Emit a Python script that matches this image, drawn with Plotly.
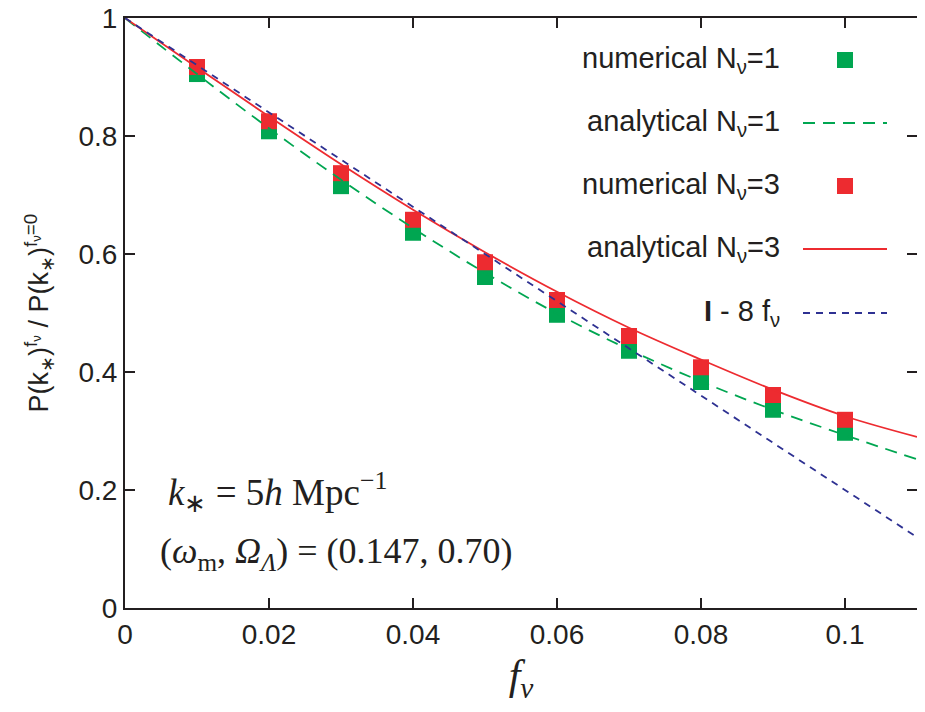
import plotly.graph_objects as go

# ---- data ----
f_nu = [0.01, 0.02, 0.03, 0.04, 0.05, 0.06, 0.07, 0.08, 0.09, 0.10]
num_N1 = [0.905, 0.808, 0.715, 0.636, 0.561, 0.497, 0.436, 0.383, 0.336, 0.297]
num_N3 = [0.917, 0.825, 0.737, 0.658, 0.586, 0.522, 0.461, 0.408, 0.361, 0.319]

f_curve = [0.0, 0.01, 0.02, 0.03, 0.04, 0.05, 0.06, 0.07, 0.08, 0.09, 0.10, 0.11]
ana_N1 = [1.0, 0.905, 0.813, 0.726, 0.644, 0.568, 0.499, 0.438, 0.384, 0.336, 0.293, 0.252]
ana_N3 = [1.0, 0.916, 0.833, 0.752, 0.675, 0.603, 0.536, 0.475, 0.421, 0.370, 0.325, 0.290]

f_lin = [0.0, 0.11]
lin_8f = [1.0, 0.12]

x_ticks = [0, 0.02, 0.04, 0.06, 0.08, 0.1]
x_labels = ["0", "0.02", "0.04", "0.06", "0.08", "0.1"]
y_ticks = [0, 0.2, 0.4, 0.6, 0.8, 1]
y_labels = ["0", "0.2", "0.4", "0.6", "0.8", "1"]

GREEN = "#00a651"
RED = "#ed2b30"
BLUE = "#2e3192"
TXT = "#231f20"
SANS = "Liberation Sans, Arial, Helvetica"
SERIF = "Liberation Serif, Times New Roman"

fig = go.Figure()
fig.add_trace(go.Scatter(x=f_nu, y=num_N1, mode="markers",
                         marker=dict(symbol="square", size=16, color=GREEN, line=dict(width=0)),
                         showlegend=False))
fig.add_trace(go.Scatter(x=f_nu, y=num_N3, mode="markers",
                         marker=dict(symbol="square", size=16, color=RED, line=dict(width=0)),
                         showlegend=False))
fig.add_trace(go.Scatter(x=f_curve, y=ana_N1, mode="lines",
                         line=dict(color=GREEN, width=1.8, dash="12px,8px", shape="spline"),
                         showlegend=False))
fig.add_trace(go.Scatter(x=f_curve, y=ana_N3, mode="lines",
                         line=dict(color=RED, width=1.8, shape="spline"),
                         showlegend=False))
fig.add_trace(go.Scatter(x=f_lin, y=lin_8f, mode="lines",
                         line=dict(color=BLUE, width=1.8, dash="7px,6px"),
                         showlegend=False))

# ---- page geometry (body has an 8px margin) ----
OFF = 8
W, H = 909, 696
L, R, T, B = 117, 0, 10, 96
pw, ph = W - L - R, H - T - B

def px(xpix):
    return (xpix - OFF - L) / pw

def py(ypix):
    return (OFF + H - B - ypix) / ph

# ---- custom legend (text right-aligned, sample to the right) ----
legend_items = [
    ("numerical N<sub>ν</sub>=1", "marker", GREEN, None),
    ("analytical N<sub>ν</sub>=1", "line", GREEN, "12px,8px"),
    ("numerical N<sub>ν</sub>=3", "marker", RED, None),
    ("analytical N<sub>ν</sub>=3", "line", RED, "solid"),
    ("<b>I</b> - 8 f<sub>ν</sub>", "line", BLUE, "7px,6px"),
]
legend_y = [60, 123, 186, 249, 313]
annotations = []
shapes = []
for (label, kind, col, dash), yp in zip(legend_items, legend_y):
    annotations.append(dict(xref="paper", yref="paper", x=px(782), y=py(yp), text=label,
                            showarrow=False, xanchor="right", yanchor="middle",
                            font=dict(family=SANS, size=29, color=TXT)))
    if kind == "marker":
        shapes.append(dict(type="rect", xref="paper", yref="paper",
                           x0=px(837), x1=px(853), y0=py(yp - 8), y1=py(yp + 8),
                           fillcolor=col, line=dict(width=0)))
    else:
        shapes.append(dict(type="line", xref="paper", yref="paper",
                           x0=px(803), x1=px(887), y0=py(yp), y1=py(yp),
                           line=dict(color=col, width=1.8, dash=dash)))

annotations.append(dict(xref="paper", yref="paper", x=px(166), y=py(492), showarrow=False,
                        xanchor="left", yanchor="middle",
                        text="<i>k</i><sub>∗</sub> = 5<i>h</i> Mpc<sup>−1</sup>",
                        font=dict(family=SERIF, size=37, color=TXT)))
annotations.append(dict(xref="paper", yref="paper", x=px(158), y=py(553), showarrow=False,
                        xanchor="left", yanchor="middle",
                        text="(<i>ω</i><sub>m</sub>, <i>Ω</i><sub><i>Λ</i></sub>) = (0.147, 0.70)",
                        font=dict(family=SERIF, size=36, color=TXT)))

fig.update_layout(
    width=W, height=H,
    margin=dict(l=L, r=R, t=T, b=B, autoexpand=False),
    paper_bgcolor="white", plot_bgcolor="white",
    showlegend=False,
    annotations=annotations,
    shapes=shapes,
    xaxis=dict(range=[0, 0.11], tickvals=x_ticks, ticktext=x_labels, automargin=False,
               ticks="inside", ticklen=10, tickwidth=1.5, tickcolor=TXT,
               showline=True, linecolor=TXT, linewidth=2, mirror="ticks",
               showgrid=False, zeroline=False, ticklabeloverflow="allow",
               tickfont=dict(family=SANS, size=28, color=TXT),
               title=dict(text="<i>f<sub>ν</sub></i>", standoff=14,
                          font=dict(family=SERIF, size=42, color=TXT))),
    yaxis=dict(range=[0, 1], tickvals=y_ticks, ticktext=y_labels, automargin=False,
               ticks="inside", ticklen=10, tickwidth=1.5, tickcolor=TXT,
               showline=True, linecolor=TXT, linewidth=2, mirror="ticks",
               showgrid=False, zeroline=False, ticklabeloverflow="allow",
               tickfont=dict(family=SANS, size=28, color=TXT),
               title=dict(text="P(k<sub>∗</sub>)<sup>f<sub>ν</sub></sup> / P(k<sub>∗</sub>)<sup>f<sub>ν</sub>=0</sup>",
                          standoff=22,
                          font=dict(family=SANS, size=27, color=TXT))),
)

fig.write_html("out.html")
